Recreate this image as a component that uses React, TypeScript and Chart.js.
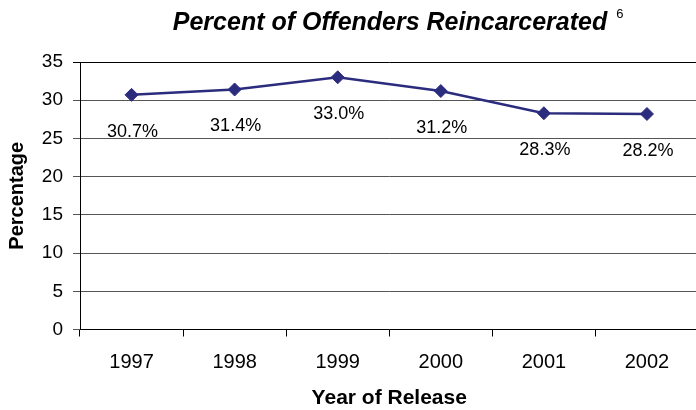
import React, { useEffect, useRef } from "react";
import { Chart, registerables } from "chart.js";

Chart.register(...registerables);

const years = ["1997", "1998", "1999", "2000", "2001", "2002"];
const reincarcerated = [30.7, 31.4, 33.0, 31.2, 28.3, 28.2];
const valueLabels = ["30.7%", "31.4%", "33.0%", "31.2%", "28.3%", "28.2%"];
const yTicks = [0, 5, 10, 15, 20, 25, 30, 35];
const chartTitle = "Percent of Offenders Reincarcerated";
const titleNote = "6";

const FONT = "'Liberation Sans', Arial, sans-serif";
const NAVY = "#2B2C7E";

const titlePlugin = {
  id: "titlePlugin",
  afterDraw(chart: any) {
    const ctx = chart.ctx;
    ctx.save();
    ctx.fillStyle = "#000";
    ctx.font = `italic bold 25px ${FONT}`;
    ctx.textBaseline = "alphabetic";
    ctx.textAlign = "left";
    const w = ctx.measureText(chartTitle).width;
    const cx = 390;
    const x0 = cx - w / 2;
    ctx.fillText(chartTitle, x0, 30);
    ctx.font = `13px ${FONT}`;
    ctx.fillText(titleNote, x0 + w + 9, 18);
    ctx.restore();
  },
};

const valueLabelPlugin = {
  id: "valueLabelPlugin",
  afterDatasetsDraw(chart: any) {
    const ctx = chart.ctx;
    const meta = chart.getDatasetMeta(0);
    ctx.save();
    ctx.fillStyle = "#000";
    ctx.font = `18px ${FONT}`;
    ctx.textAlign = "center";
    ctx.textBaseline = "middle";
    meta.data.forEach((pt: any, i: number) => {
      ctx.fillText(valueLabels[i], pt.x + 1, pt.y + 37);
    });
    ctx.restore();
  },
};

export default function App() {
  const ref = useRef<HTMLCanvasElement | null>(null);
  useEffect(() => {
    if (!ref.current) return;
    const chart = new Chart(ref.current, {
      type: "line",
      data: {
        labels: years,
        datasets: [
          {
            data: reincarcerated,
            borderColor: NAVY,
            backgroundColor: NAVY,
            borderWidth: 2.5,
            pointStyle: "rectRot",
            pointRadius: 6.5,
            pointHoverRadius: 6.5,
            pointBackgroundColor: NAVY,
            pointBorderColor: NAVY,
            pointBorderWidth: 1,
            tension: 0,
          },
        ],
      },
      options: {
        responsive: false,
        animation: false,
        layout: { padding: { top: 62, right: 1, left: 0, bottom: 0 } },
        plugins: {
          legend: { display: false },
          title: { display: false },
          tooltip: { enabled: false },
        },
        scales: {
          x: {
            type: "category",
            offset: true,
            grid: {
              display: true,
              drawOnChartArea: false,
              drawTicks: true,
              tickLength: 7,
              color: "#000",
              offset: true,
            },
            border: { display: true, color: "#000", width: 1 },
            ticks: {
              color: "#000",
              font: { family: FONT, size: 20 },
              padding: 14,
              maxRotation: 0,
            },
            title: {
              display: true,
              text: "Year of Release",
              color: "#000",
              font: { family: FONT, size: 21, weight: "bold" },
              padding: { top: 0, bottom: -1 },
            },
            afterFit(scale: any) {
              scale.height = 80.5;
            },
          },
          y: {
            min: 0,
            max: 35,
            afterBuildTicks(scale: any) {
              scale.ticks = yTicks.map((v) => ({ value: v }));
            },
            grid: {
              color: (c: any) => (c.tick && c.tick.value === 35 ? "#000" : "#555555"),
              tickLength: 7,
              drawTicks: true,
            },
            border: { display: true, color: "#000", width: 1 },
            ticks: {
              color: "#000",
              font: { family: FONT, size: 19 },
              padding: 10,
            },
            title: {
              display: true,
              text: "Percentage",
              color: "#000",
              font: { family: FONT, size: 20, weight: "bold" },
              padding: { top: 5, bottom: 0 },
            },
            afterFit(scale: any) {
              scale.width = 80;
            },
          },
        },
      },
      plugins: [titlePlugin, valueLabelPlugin],
    } as any);
    return () => chart.destroy();
  }, []);

  return (
    <div
      style={{
        position: "fixed",
        left: 0,
        top: 0,
        width: 696,
        height: 410,
        overflow: "hidden",
        background: "#fff",
      }}
    >
      <canvas ref={ref} width={706} height={410} style={{ display: "block" }} />
    </div>
  );
}
